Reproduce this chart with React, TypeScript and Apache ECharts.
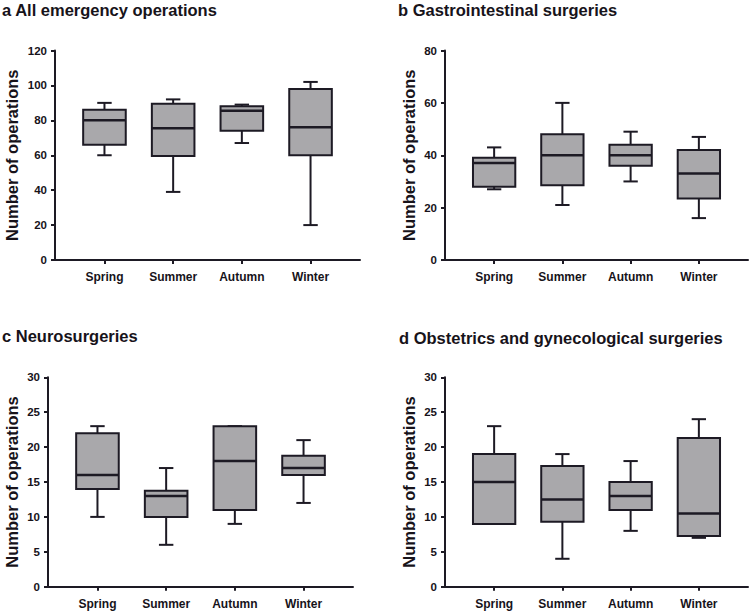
import React, { useEffect, useRef } from 'react';
import * as echarts from 'echarts';

// Seasons on the x axis
const seasons = ['Spring', 'Summer', 'Autumn', 'Winter'];

// Box statistics per season: [min, Q1, median, Q3, max]
const allEmergency = [
  [60, 66, 80, 86, 90],
  [39, 59.5, 75.5, 89.5, 92],
  [67, 74, 85.5, 88, 89],
  [20, 60, 76, 98, 102],
];
const gastrointestinal = [
  [27, 28, 37, 39, 43],
  [21, 28.5, 40, 48, 60],
  [30, 36, 40, 44, 49],
  [16, 23.5, 33, 42, 47],
];
const neurosurgery = [
  [10, 14, 16, 22, 23],
  [6, 10, 13, 13.75, 17],
  [9, 11, 18, 23, 23],
  [12, 16, 17, 18.75, 21],
];
const obstetricsGyn = [
  [9, 9, 15, 19, 23],
  [4, 9.3, 12.5, 17.3, 19],
  [8, 11, 13, 15, 18],
  [7, 7.25, 10.5, 21.3, 24],
];

// y-axis ranges: [max, step]
const yRangeA = [120, 20];
const yRangeB = [80, 20];
const yRangeC = [30, 5];
const yRangeD = [30, 5];

const titles = [
  'a All emergency operations',
  'b Gastrointestinal surgeries',
  'c Neurosurgeries',
  'd Obstetrics and gynecological surgeries',
];
const yAxisTitle = 'Number of operations';

const INK = '#1d1a24';
const FILL = '#a9a8ab';
const TEXT = '#17131a';
const FONT = '"Liberation Sans", Arial, Helvetica, sans-serif';

const panels = [
  { data: allEmergency, yRange: yRangeA, grid: { left: 55, top: 50.5, width: 305, height: 209.5 }, titleX: 2, titleY: 10, nameX: 12 },
  { data: gastrointestinal, yRange: yRangeB, grid: { left: 445, top: 50.5, width: 303, height: 209.5 }, titleX: 398, titleY: 10, nameX: 409 },
  { data: neurosurgery, yRange: yRangeC, grid: { left: 48, top: 377.3, width: 305, height: 209.4 }, titleX: 2, titleY: 336, nameX: 12 },
  { data: obstetricsGyn, yRange: yRangeD, grid: { left: 445, top: 377.3, width: 303, height: 209.4 }, titleX: 399, titleY: 337.5, nameX: 409 },
];

const HALF_BOX = 0.31;
const HALF_CAP = 0.105;

function renderBox(_params: any, api: any) {
  const x = api.value(0);
  const lo = api.coord([x, api.value(1)]);
  const q1 = api.coord([x, api.value(2)]);
  const med = api.coord([x, api.value(3)]);
  const q3 = api.coord([x, api.value(4)]);
  const hi = api.coord([x, api.value(5)]);
  const hb = api.size([HALF_BOX, 0])[0];
  const hc = api.size([HALF_CAP, 0])[0];
  const cx = med[0];
  const line = { stroke: INK, lineWidth: 2, fill: null };
  return {
    type: 'group',
    children: [
      { type: 'line', shape: { x1: cx, y1: hi[1], x2: cx, y2: q3[1] }, style: line },
      { type: 'line', shape: { x1: cx, y1: q1[1], x2: cx, y2: lo[1] }, style: line },
      { type: 'line', shape: { x1: cx - hc, y1: hi[1], x2: cx + hc, y2: hi[1] }, style: line },
      { type: 'line', shape: { x1: cx - hc, y1: lo[1], x2: cx + hc, y2: lo[1] }, style: line },
      {
        type: 'rect',
        shape: { x: cx - hb, y: q3[1], width: hb * 2, height: q1[1] - q3[1] },
        style: { fill: FILL, stroke: INK, lineWidth: 2 },
      },
      { type: 'line', shape: { x1: cx - hb, y1: med[1], x2: cx + hb, y2: med[1] }, style: { stroke: INK, lineWidth: 2.5 } },
    ],
  };
}

export default function App() {
  const ref = useRef<HTMLDivElement>(null);

  useEffect(() => {
    if (!ref.current) return;
    const chart = echarts.init(ref.current, null, { renderer: 'svg' });

    const grid = panels.map((p) => ({ ...p.grid, containLabel: false }));
    const xAxis = panels.map((_p, i) => ({
      type: 'value',
      gridIndex: i,
      min: -0.72,
      max: 3.72,
      splitLine: { show: false },
      axisLine: { show: true, onZero: false, lineStyle: { color: INK, width: 2 } },
      axisTick: { show: true, length: 4, lineStyle: { color: INK, width: 2 }, customValues: [0, 1, 2, 3] },
      axisLabel: {
        show: true,
        customValues: [0, 1, 2, 3],
        formatter: (v: number) => seasons[Math.round(v)] ?? '',
        color: TEXT,
        fontFamily: FONT,
        fontWeight: 'bold',
        fontSize: 12,
        margin: 11,
      },
    }));
    const yAxis = panels.map((p, i) => ({
      type: 'value',
      gridIndex: i,
      min: 0,
      max: p.yRange[0],
      interval: p.yRange[1],
      splitLine: { show: false },
      axisLine: { show: true, onZero: false, lineStyle: { color: INK, width: 2 } },
      axisTick: { show: true, length: 4, lineStyle: { color: INK, width: 2 } },
      axisLabel: {
        color: TEXT,
        fontFamily: FONT,
        fontWeight: 'bold',
        fontSize: 11.5,
        margin: 8,
      },
    }));
    const series = panels.map((p, i) => ({
      type: 'custom',
      xAxisIndex: i,
      yAxisIndex: i,
      renderItem: renderBox,
      encode: { x: 0, y: [1, 2, 3, 4, 5] },
      data: p.data.map((d, k) => [k, ...d]),
    }));

    const graphic: any[] = [];
    panels.forEach((p, i) => {
      graphic.push({
        type: 'text',
        x: p.titleX,
        y: p.titleY,
        style: {
          text: titles[i],
          fill: TEXT,
          font: `bold 16.5px ${FONT}`,
          textAlign: 'left',
          textVerticalAlign: 'middle',
        },
      });
      graphic.push({
        type: 'text',
        x: p.nameX,
        y: p.grid.top + p.grid.height / 2,
        rotation: Math.PI / 2,
        style: {
          text: yAxisTitle,
          fill: TEXT,
          font: `bold 16.5px ${FONT}`,
          textAlign: 'center',
          textVerticalAlign: 'middle',
        },
      });
    });

    chart.setOption({
      animation: false,
      backgroundColor: '#ffffff',
      grid,
      xAxis,
      yAxis,
      series,
      graphic,
    });

    return () => chart.dispose();
  }, []);

  return (
    <div
      ref={ref}
      style={{ position: 'absolute', left: 0, top: 0, width: 750, height: 611 }}
    />
  );
}
